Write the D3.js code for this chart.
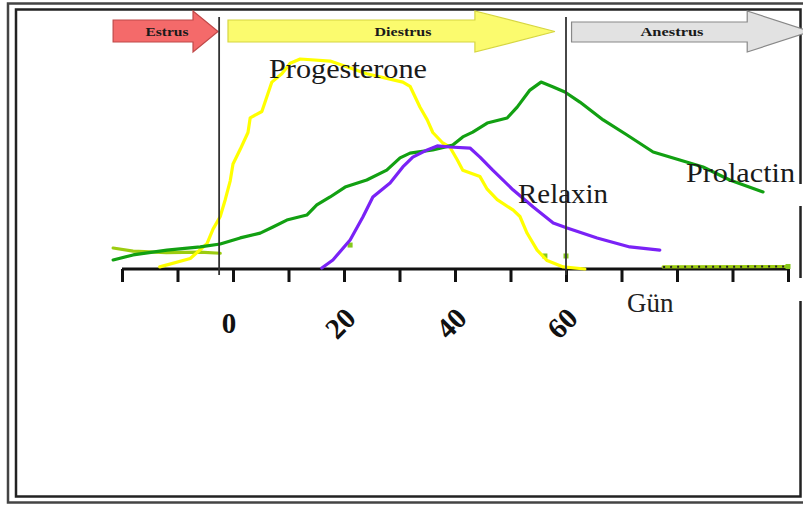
<!DOCTYPE html>
<html>
<head>
<meta charset="utf-8">
<script src="https://cdn.jsdelivr.net/npm/d3@7"></script>
<style>
    body { margin: 0; background: #fff; }
    svg { display: block; }
</style>
</head>
<body>
<svg width="803" height="506"></svg>
<script>
// phases (days) shown as arrows at the top
var phases = ["Estrus", "Diestrus", "Anestrus"];
var phaseStart = [-21.6, -0.9, 61];
var phaseEnd = [-2.7, 58, 104];
var phaseHead = [25, 80, 63];

// day ticks and labelled days
var tickDays = [-20, -10, 0, 10, 20, 30, 40, 50, 60, 70, 80, 90, 100];
var labelDays = [0, 20, 40, 60];
var phaseLines = [-2.5, 60];

// hormone curves, [day, relative level]
var progesterone = [[-13.2, 1], [-7.7, 5], [-4.7, 12], [-3.6, 19], [-2.3, 25], [-1.4, 33], [-0.5, 42], [0, 50],
    [1.3, 57], [2.7, 65], [3.1, 72], [5.2, 75], [6.1, 82], [7, 89], [8.8, 93], [10.3, 98], [12.1, 100],
    [17.5, 99], [24.1, 93], [30.6, 89], [31.9, 87], [33.7, 77], [35, 71], [36, 65], [37.8, 60], [39.1, 58],
    [40.4, 52], [41.4, 47], [44.5, 44], [45.8, 38], [47.6, 33], [50.5, 28], [51.7, 25], [53, 17], [54.8, 9],
    [56.6, 4], [59.5, 1], [63.4, 0]];

var prolactin = [[-21.6, 4.3], [-18, 6.7], [-11.9, 9], [-5.9, 10.5], [-2.3, 11.9], [1.3, 14.8], [4.9, 17.1],
    [7.2, 20], [9.7, 23.3], [13.3, 25.7], [15.1, 30.5], [17.5, 34.3], [20.2, 39], [24.1, 42.4], [27.7, 47.1],
    [30.1, 52.9], [31.9, 55.2], [36, 56.7], [39.6, 59], [41.4, 62.9], [43.2, 65.2], [45.8, 69.5], [49.4, 71.9],
    [51.2, 77.1], [53.5, 85.2], [55.5, 89], [57.7, 86.7], [59.8, 84.3], [62.5, 79.5], [66.7, 71], [71, 63.8],
    [75.7, 55.7], [80.5, 51.9], [84.7, 48.6], [89.5, 42.4], [95.5, 36.7]];

var relaxin = [[16, 0.5], [18, 4.3], [21.1, 13.8], [23.4, 24.8], [25.2, 34.3], [28.3, 41], [30.6, 48.6],
    [32.4, 53.3], [35, 56.7], [36.8, 58.6], [39.1, 58.1], [42.7, 57.6], [44.5, 53.3], [46.8, 47.1],
    [50.5, 37.6], [54.1, 29.5], [57.7, 21.9], [60.2, 19.5], [65.6, 14.8], [71.5, 10.5], [76.9, 9]];

// faint light green traces
var greenStart = [[-21.6, 10], [-18, 8.5], [-12, 7.8], [-6, 8], [-2.3, 7.5]];
var greenEnd = [[77.5, 1], [100, 1.2]];
var greenDots = [[21.1, 11.4], [56.2, 6.2], [60, 6.2], [100, 1.2]];

var svg = d3.select("svg"),
    width = +svg.attr("width"),
    height = +svg.attr("height");

var x = d3.scaleLinear().domain([0, 60]).range([233, 566]);
var y = d3.scaleLinear().domain([0, 100]).range([269, 59]);

// double frame
svg.append("rect")
    .attr("x", 8).attr("y", 3.5)
    .attr("width", 800).attr("height", 499)
    .attr("fill", "none").attr("stroke", "#444").attr("stroke-width", 2.5);
svg.append("rect")
    .attr("x", 16).attr("y", 9.5)
    .attr("width", 784.5).attr("height", 487)
    .attr("fill", "none").attr("stroke", "#222").attr("stroke-width", 2.5);
// white gaps on the right edge
[[184, 206], [278, 301]].forEach(function (g) {
    svg.append("rect").attr("x", 797).attr("y", g[0]).attr("width", 6).attr("height", g[1] - g[0]).attr("fill", "#fff");
});

// phase arrows
var arrowFill = ["#f46a6a", "#fbfb6e", "#e2e2e2"];
var arrowStroke = ["#c04848", "#d6d640", "#888"];
var arrows = svg.append("g");
phases.forEach(function (name, i) {
    var x0 = x(phaseStart[i]), x1 = x(phaseEnd[i]), hb = x1 - phaseHead[i];
    var top = i == 2 ? 22 : 20, bot = 42;
    var pts = [[x0, top], [hb, top], [hb, 11], [x1, 31.5], [hb, 52], [hb, bot], [x0, bot]];
    arrows.append("polygon")
        .attr("points", pts.map(function (p) { return p.join(","); }).join(" "))
        .attr("fill", arrowFill[i])
        .attr("stroke", arrowStroke[i])
        .attr("stroke-width", 1.2);
});
var phaseTextX = [167, 403, 672];
var phaseTextW = [43, 57, 63];
arrows.selectAll("text.phase")
    .data(phases)
    .enter().append("text")
    .attr("class", "phase")
    .attr("x", function (d, i) { return phaseTextX[i] - phaseTextW[i] / 2; })
    .attr("y", 36)
    .attr("textLength", function (d, i) { return phaseTextW[i]; })
    .attr("lengthAdjust", "spacingAndGlyphs")
    .attr("font-family", "Liberation Serif, serif")
    .attr("font-weight", "bold")
    .attr("font-size", 12.5)
    .attr("fill", "#1a1a1a")
    .text(function (d) { return d; });

// x axis with ticks only
var axis = d3.axisBottom(x)
    .tickValues(tickDays)
    .tickSize(13)
    .tickSizeOuter(0)
    .tickFormat("");
var gx = svg.append("g")
    .attr("transform", "translate(0," + y(0) + ")")
    .call(axis);
gx.select(".domain").attr("stroke", "#111").attr("stroke-width", 3)
    .attr("d", "M" + x(-20) + ",0H" + x(100));
gx.selectAll(".tick line").attr("stroke", "#111").attr("stroke-width", 3);

// day labels
svg.selectAll("text.day")
    .data(labelDays)
    .enter().append("text")
    .attr("class", "day")
    .attr("transform", function (d) {
        return "translate(" + (x(d) - 4) + ",323) rotate(" + (d == 0 ? 0 : -45) + ")";
    })
    .attr("text-anchor", "middle")
    .attr("dy", "0.35em")
    .attr("font-family", "Liberation Serif, serif")
    .attr("font-weight", "bold")
    .attr("font-size", 29)
    .attr("fill", "#111")
    .text(function (d) { return d; });

svg.append("text")
    .attr("x", 627).attr("y", 312)
    .attr("font-family", "Liberation Serif, serif")
    .attr("font-size", 27)
    .attr("fill", "#222")
    .text("Gün");

// curves
var line = d3.line()
    .x(function (d) { return x(d[0]); })
    .y(function (d) { return y(d[1]); });

var curves = svg.append("g").attr("fill", "none")
    .attr("stroke-width", 3.2).attr("stroke-linejoin", "round").attr("stroke-linecap", "round");

curves.append("path").attr("d", line(greenStart)).attr("stroke", "#9ccc10");
curves.append("path").attr("d", line(greenEnd)).attr("stroke", "#9ccc10");
curves.append("path").attr("d", line(greenEnd)).attr("stroke", "#222")
    .attr("stroke-width", 2).attr("stroke-dasharray", "2,5").attr("stroke-linecap", "butt");
curves.selectAll("rect.gdot")
    .data(greenDots)
    .enter().append("rect")
    .attr("class", "gdot")
    .attr("x", function (d) { return x(d[0]) - 2.5; })
    .attr("y", function (d) { return y(d[1]) - 2.5; })
    .attr("width", 5).attr("height", 5)
    .attr("fill", "#86c81c").attr("stroke", "none");

curves.append("path").attr("d", line(progesterone)).attr("stroke", "#ffff00");
curves.append("path").attr("d", line(prolactin)).attr("stroke", "#12a012");
curves.append("path").attr("d", line(relaxin)).attr("stroke", "#7a22f6");

// phase boundary lines
svg.selectAll("line.phaseline")
    .data(phaseLines)
    .enter().append("line")
    .attr("class", "phaseline")
    .attr("x1", function (d) { return x(d); })
    .attr("x2", function (d) { return x(d); })
    .attr("y1", 17)
    .attr("y2", y(0) + 6)
    .attr("stroke", "#333")
    .attr("stroke-width", 1.8);

// hormone names
var names = ["Progesterone", "Relaxin", "Prolactin"];
var nameX = [269, 518, 686];
var nameY = [78, 203, 182];
var nameW = [158, 90, 109];
svg.selectAll("text.hormone")
    .data(names)
    .enter().append("text")
    .attr("class", "hormone")
    .attr("x", function (d, i) { return nameX[i]; })
    .attr("y", function (d, i) { return nameY[i]; })
    .attr("textLength", function (d, i) { return nameW[i]; })
    .attr("lengthAdjust", "spacingAndGlyphs")
    .attr("font-family", "Liberation Serif, serif")
    .attr("font-size", 28)
    .attr("fill", "#1a1a1a")
    .text(function (d) { return d; });
</script>
</body>
</html>
